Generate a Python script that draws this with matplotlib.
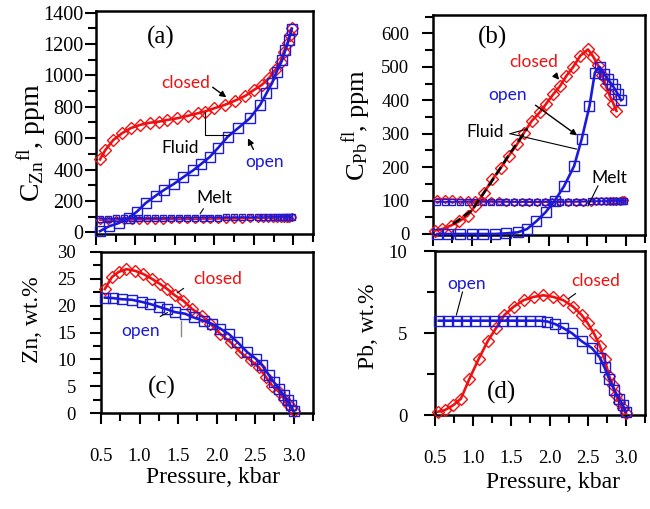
import matplotlib
matplotlib.use('Agg')
import matplotlib.pyplot as plt
from matplotlib.ticker import MultipleLocator

plt.rcParams['font.family'] = 'Liberation Serif'
plt.rcParams['mathtext.fontset'] = 'custom'
plt.rcParams['mathtext.rm'] = 'Liberation Serif'
plt.rcParams['mathtext.it'] = 'Liberation Serif:italic'

RED = '#ee1111'
BLUE = '#1a1ad8'
SANS = 'Lato'

# ---- (a) Zn in fluid, ppm
a_cl_p = [0.55, 0.62, 0.72, 0.83, 0.94, 1.06, 1.19, 1.30, 1.40, 1.53, 1.66, 1.79, 1.88,
          2.00, 2.13, 2.26, 2.39, 2.50, 2.60, 2.69, 2.77, 2.84, 2.88, 2.93, 2.96, 2.98]
a_cl_c = [465, 526, 589, 632, 664, 685, 699, 706, 716, 727, 742, 759, 770,
          791, 812, 839, 869, 907, 939, 981, 1034, 1087, 1151, 1204, 1257, 1299]
a_op_p = [0.55, 0.66, 0.79, 0.92, 1.02, 1.13, 1.26, 1.36, 1.49, 1.60, 1.73, 1.83, 1.94,
          2.05, 2.17, 2.30, 2.45, 2.58, 2.66, 2.73, 2.79, 2.86, 2.90, 2.94, 2.98]
a_op_c = [8, 38, 60, 95, 133, 187, 235, 270, 310, 350, 395, 435, 480,
          540, 610, 664, 727, 812, 886, 950, 1024, 1098, 1161, 1225, 1295]
a_melt_p = [0.55, 0.65, 0.75, 0.85, 0.95, 1.05, 1.15, 1.25, 1.35, 1.45, 1.55, 1.65, 1.75, 1.85, 1.95,
            2.05, 2.15, 2.25, 2.35, 2.45, 2.55, 2.62, 2.68, 2.74, 2.79, 2.84, 2.88, 2.92, 2.95, 2.98]
a_melt_cl = [78, 79, 79, 80, 80, 81, 81, 82, 82, 83, 83, 84, 84, 85, 85,
             86, 87, 87, 88, 89, 90, 91, 91, 92, 93, 93, 94, 95, 95, 96]
a_melt_op = [88, 88, 89, 89, 90, 90, 91, 91, 92, 92, 93, 93, 94, 94, 95,
             95, 96, 96, 97, 97, 98, 98, 99, 99, 100, 100, 100, 101, 101, 101]

# ---- (b) Pb in fluid, ppm
b_cl_p = [0.52, 0.62, 0.73, 0.84, 0.95, 1.05, 1.16, 1.27, 1.38, 1.48, 1.59, 1.68, 1.78, 1.89,
          1.97, 2.06, 2.15, 2.23, 2.32, 2.41, 2.51, 2.58, 2.64, 2.69, 2.74, 2.79, 2.84, 2.88]
b_cl_c = [10, 15, 25, 38, 55, 85, 123, 163, 198, 233, 268, 303, 338, 365,
          390, 418, 443, 473, 500, 533, 552, 530, 505, 475, 445, 415, 390, 368]
b_dash_p = [0.76, 1.00, 1.27, 1.48, 1.72]
b_dash_c = [30, 70, 160, 235, 315]
b_op_p = [0.55, 0.70, 0.85, 1.00, 1.15, 1.30, 1.45, 1.60, 1.72, 1.84, 1.96, 2.08, 2.20,
          2.33, 2.43, 2.53, 2.60, 2.66, 2.72, 2.77, 2.82, 2.86, 2.90, 2.94]
b_op_c = [0, 0, 0, 0, 0, 0, 2, 5, 15, 38, 65, 100, 143,
          203, 285, 383, 483, 500, 478, 463, 448, 433, 418, 400]
b_melt_cl = [106, 105, 104, 103, 102, 101, 100, 99, 98, 97, 96, 96, 95, 95, 95,
             95, 95, 96, 96, 97, 97, 98, 98, 99, 99, 100, 100, 100, 101, 101]
b_melt_op = [96, 96, 96, 96, 96, 96, 96, 96, 96, 96, 96, 96, 96, 96, 97,
             97, 97, 97, 97, 97, 98, 98, 98, 98, 98, 99, 99, 99, 99, 99]

# ---- (c) Zn, wt.%
c_cl_p = [0.55, 0.64, 0.73, 0.83, 0.94, 1.05, 1.16, 1.27, 1.36, 1.46, 1.57, 1.68, 1.81,
          1.92, 2.05, 2.18, 2.31, 2.44, 2.55, 2.64, 2.72, 2.81, 2.87, 2.92, 2.96, 3.00]
c_cl_c = [23.1, 25.3, 26.3, 26.8, 26.5, 25.9, 25.0, 24.0, 23.1, 21.9, 20.9, 19.4, 18.1,
          16.6, 14.7, 13.2, 11.3, 9.8, 8.5, 6.7, 5.1, 3.9, 2.7, 1.7, 1.1, 0.3]
c_op_p = [0.55, 0.66, 0.77, 0.90, 1.03, 1.14, 1.25, 1.36, 1.46, 1.59, 1.70, 1.83, 1.94,
          2.05, 2.16, 2.27, 2.40, 2.51, 2.59, 2.68, 2.74, 2.81, 2.87, 2.92, 2.96, 3.00]
c_op_c = [21.5, 21.4, 21.2, 21.1, 20.7, 20.3, 19.8, 19.3, 18.8, 18.5, 17.8, 17.2, 16.6,
          15.7, 14.7, 13.2, 11.3, 10.1, 8.9, 7.0, 5.8, 4.5, 3.3, 2.4, 1.4, 0.3]

# ---- (d) Pb, wt.%
d_cl_p = [0.54, 0.63, 0.74, 0.84, 0.95, 1.07, 1.19, 1.30, 1.41, 1.53, 1.66, 1.79, 1.92, 2.05,
          2.18, 2.31, 2.42, 2.50, 2.59, 2.66, 2.72, 2.78, 2.83, 2.87, 2.91, 2.96, 3.00]
d_cl_c = [0.2, 0.3, 0.6, 1.0, 2.2, 3.4, 4.5, 5.3, 6.1, 6.6, 7.0, 7.2, 7.3, 7.2,
          7.0, 6.6, 6.1, 5.6, 4.9, 4.2, 3.4, 2.4, 1.8, 1.2, 0.8, 0.4, 0.1]
d_op_p = [0.55, 0.67, 0.79, 0.91, 1.03, 1.15, 1.27, 1.39, 1.51, 1.63, 1.75, 1.87, 1.97,
          2.07, 2.18, 2.29, 2.42, 2.55, 2.66, 2.72, 2.78, 2.85, 2.91, 2.96, 3.00]
d_op_c = [5.75, 5.75, 5.75, 5.75, 5.75, 5.75, 5.75, 5.75, 5.75, 5.75, 5.75, 5.75, 5.7,
          5.55, 5.3, 5.0, 4.5, 4.1, 3.5, 2.9, 2.2, 1.5, 1.0, 0.6, 0.2]

x_ticks = [0.5, 1.0, 1.5, 2.0, 2.5, 3.0]

fig = plt.figure(figsize=(6.5, 5.09), dpi=100)
W, H = 650, 509


def add_ax(l, t, r, b):
    return fig.add_axes([l / W, 1 - b / H, (r - l) / W, (b - t) / H])


ax_a = add_ax(96, 11, 313, 234)
ax_b = add_ax(433, 15, 645, 235)
ax_c = add_ax(101, 252, 313, 413)
ax_d = add_ax(435, 251, 645, 415)

DMS, SMS = 6.3, 7.2


def series(ax, p, c, color, marker, ms, lw=1.9, z=3):
    ax.plot(p, c, '-', color=color, lw=lw, marker=marker, ms=ms, mfc='none',
            mec=color, mew=1.0, clip_on=False, zorder=z)


def style(ax, ylim, ymaj, ymin, ypad, xlabels, fs):
    ax.set_xlim(0.5, 3.25)
    ax.set_ylim(*ylim)
    ax.set_xticks(x_ticks)
    ax.xaxis.set_minor_locator(MultipleLocator(0.25))
    ax.yaxis.set_major_locator(MultipleLocator(ymaj))
    ax.yaxis.set_minor_locator(MultipleLocator(ymin))
    ax.tick_params(which='both', direction='out', top=False, right=False, width=1.5)
    ax.tick_params(which='major', length=8)
    ax.tick_params(which='minor', length=5.5)
    ax.tick_params(axis='y', labelsize=fs, pad=ypad)
    ax.tick_params(axis='x', labelsize=13.5, pad=17)
    if xlabels:
        ax.set_xticklabels(['0.5', '1.0', '1.5', '2.0', '2.5', '3.0'])
    else:
        ax.set_xticklabels([])
    for s in ax.spines.values():
        s.set_linewidth(1.8)


def note(ax, x, y, s, color, fs=12.5):
    ax.text(x, y, s, color=color, fontsize=fs, family=SANS, ha='center', va='center')


def arrow(ax, x0, y0, x1, y1):
    ax.annotate('', xy=(x1, y1), xytext=(x0, y0),
                arrowprops=dict(arrowstyle='-|>', color='black', lw=1.0, mutation_scale=9))


def seg(ax, xs, ys, color='black', lw=0.8):
    ax.plot(xs, ys, color=color, lw=lw, zorder=5)


# (a)
series(ax_a, a_melt_p, a_melt_cl, RED, 'D', 3.6, lw=1.2)
series(ax_a, a_melt_p, a_melt_op, BLUE, 's', 4.6, lw=1.2)
series(ax_a, a_cl_p, a_cl_c, RED, 'D', DMS)
series(ax_a, a_op_p, a_op_c, BLUE, 's', SMS)
style(ax_a, (-10, 1410), 200, 100, 1, False, 14.5)
ax_a.text(1.32, 1244, '(a)', fontsize=18, ha='center', va='center')
note(ax_a, 1.64, 951, 'closed', RED)
arrow(ax_a, 1.95, 935, 2.18, 850)
note(ax_a, 1.56, 538, 'Fluid', 'black')
seg(ax_a, [1.88, 1.88, 2.18], [770, 620, 620])
note(ax_a, 2.63, 449, 'open', BLUE)
arrow(ax_a, 2.51, 513, 2.41, 615)
note(ax_a, 2.0, 221, 'Melt', 'black')
seg(ax_a, [1.86, 1.82], [150, 119])
ax_a.text(-0.295, 0.41, r'C$_{\mathrm{Zn}}$$^{\mathrm{fl}}$, ppm', transform=ax_a.transAxes,
          rotation=90, fontsize=20, ha='center', va='center')

# (b)
series(ax_b, a_melt_p, b_melt_cl, RED, 'D', 3.6, lw=1.2)
series(ax_b, a_melt_p, b_melt_op, BLUE, 's', 4.6, lw=1.2)
series(ax_b, b_cl_p, b_cl_c, RED, 'D', DMS)
ax_b.plot(b_dash_p, b_dash_c, '--', color='black', lw=1.8, zorder=4)
series(ax_b, b_op_p, b_op_c, BLUE, 's', SMS)
style(ax_b, (-3, 655), 100, 50, 9, False, 13.5)
ax_b.text(1.27, 588, '(b)', fontsize=18, ha='center', va='center')
note(ax_b, 1.80, 513, 'closed', RED)
arrow(ax_b, 2.06, 482, 2.16, 455)
note(ax_b, 1.47, 417, 'open', BLUE)
arrow(ax_b, 1.80, 390, 2.40, 290)
note(ax_b, 1.18, 306, 'Fluid', 'black')
seg(ax_b, [1.50, 1.72], [300, 314])
seg(ax_b, [1.50, 2.36], [300, 254])
note(ax_b, 2.79, 168, 'Melt', 'black')
seg(ax_b, [2.64, 2.51], [144, 84])
ax_b.text(-0.358, 0.5, r'C$_{\mathrm{Pb}}$$^{\mathrm{fl}}$, ppm', transform=ax_b.transAxes,
          rotation=90, fontsize=19, ha='center', va='center')

# (c)
series(ax_c, c_cl_p, c_cl_c, RED, 'D', DMS)
series(ax_c, c_op_p, c_op_c, BLUE, 's', SMS)
style(ax_c, (0, 30), 5, 2.5, 10, True, 13.5)
ax_c.text(1.29, 4.8, '(c)', fontsize=18, ha='center', va='center')
note(ax_c, 2.02, 25.0, 'closed', RED)
seg(ax_c, [1.57, 1.49], [23.2, 22.4])
note(ax_c, 1.01, 15.2, 'open', BLUE)
seg(ax_c, [1.27, 1.36], [18.0, 18.7])
seg(ax_c, [1.54, 1.54], [17.2, 14.3], color='#888888', lw=1.0)
ax_c.text(-0.325, 0.58, 'Zn, wt.%', transform=ax_c.transAxes, rotation=90,
          fontsize=17, ha='center', va='center')
ax_c.text(0.53, -0.40, 'Pressure, kbar', transform=ax_c.transAxes,
          fontsize=17, ha='center', va='center')

# (d)
series(ax_d, d_cl_p, d_cl_c, RED, 'D', DMS)
series(ax_d, d_op_p, d_op_c, BLUE, 's', SMS)
style(ax_d, (0, 10), 5, 2.5, 12, True, 13.5)
ax_d.text(1.37, 1.4, '(d)', fontsize=18, ha='center', va='center')
note(ax_d, 0.91, 8.0, 'open', BLUE)
seg(ax_d, [0.86, 0.78], [7.5, 6.1])
note(ax_d, 2.6, 8.2, 'closed', RED)
seg(ax_d, [2.34, 2.25], [7.4, 7.1])
ax_d.text(-0.319, 0.54, 'Pb, wt.%', transform=ax_d.transAxes, rotation=90,
          fontsize=17, ha='center', va='center')
ax_d.text(0.56, -0.41, 'Pressure, kbar', transform=ax_d.transAxes,
          fontsize=17, ha='center', va='center')

fig.savefig('out.png', dpi=100)
